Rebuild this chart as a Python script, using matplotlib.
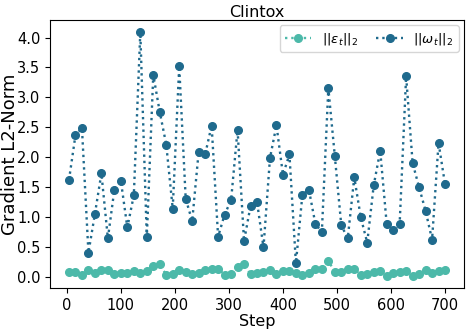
import matplotlib
matplotlib.use('Agg')
import matplotlib.pyplot as plt
import numpy as np

# Steps where the gradient norms were logged
steps = np.arange(4, 701, 12)

eps_norm = [
    0.083, 0.083, 0.027, 0.105, 0.066, 0.116, 0.105, 0.038, 0.055, 0.061,
    0.094, 0.055, 0.094, 0.183, 0.205, 0.027, 0.049, 0.105, 0.083, 0.035,
    0.066, 0.110, 0.122, 0.133, 0.027, 0.038, 0.160, 0.216, 0.038, 0.066,
    0.077, 0.105, 0.038, 0.094, 0.094, 0.066, 0.027, 0.066, 0.122, 0.122,
    0.260, 0.083, 0.083, 0.127, 0.127, 0.027, 0.049, 0.083, 0.094, 0.016,
    0.055, 0.077, 0.094, 0.011, 0.038, 0.105, 0.066, 0.094, 0.105,
]

omega_norm = [
    1.617, 2.367, 2.483, 0.400, 1.050, 1.727, 0.638, 1.455, 1.605, 0.822,
    1.360, 4.088, 0.655, 3.377, 2.755, 2.210, 1.138, 3.520, 1.305, 0.927,
    2.088, 2.043, 2.527, 0.667, 1.038, 1.277, 2.460, 0.593, 1.183, 1.250,
    0.488, 1.983, 2.533, 1.705, 2.043, 0.222, 1.372, 1.455, 0.883, 0.743,
    3.155, 2.017, 0.855, 0.643, 1.660, 0.993, 0.567, 1.527, 2.105, 0.883,
    0.783, 0.883, 3.350, 1.900, 1.493, 1.100, 0.617, 2.238, 1.543,
]

teal = '#4cb9a9'
navy = '#1f6a8d'

fig, ax = plt.subplots(figsize=(4.69, 3.3), dpi=100)

ax.plot(steps, eps_norm, linestyle=':', marker='o', color=teal,
        markersize=5.5, linewidth=1.7, label=r'$||\varepsilon_t||_2$')
ax.plot(steps, omega_norm, linestyle=':', marker='o', color=navy,
        markersize=5.5, linewidth=1.7, label=r'$||\omega_t||_2$')

ax.set_title('Clintox', fontsize=11.5, pad=2)
ax.set_xlabel('Step', fontsize=11.5, labelpad=1)
ax.set_ylabel('Gradient L2-Norm', fontsize=13)
ax.yaxis.set_label_coords(-0.076, 0.5)
ax.tick_params(labelsize=10.5)
ax.set_yticks(np.arange(0, 4.01, 0.5))

ax.legend(loc='upper right', ncol=2, fontsize=9.5, borderaxespad=0.4,
          columnspacing=1.4, handlelength=2.0)

fig.subplots_adjust(left=0.107, right=0.989, top=0.939, bottom=0.127)
fig.savefig('out.png', dpi=100)
